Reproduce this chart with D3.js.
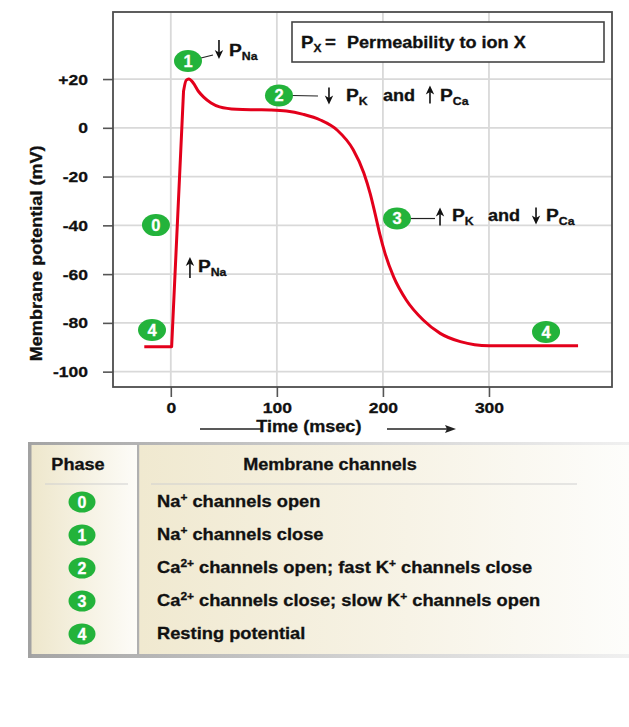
<!DOCTYPE html>
<html><head><meta charset="utf-8">
<script src="https://cdn.jsdelivr.net/npm/d3@7"></script>
<style>html,body{margin:0;padding:0;background:#fff;} svg{display:block;}</style>
</head><body>
<svg id="chart" width="629" height="727"></svg>
<script>
// ---------------- data ----------------
const timeMs =     [-25, 0.8, 12, 14.5, 17, 21, 26, 31, 38, 46, 62, 80, 94, 109, 125, 141, 157, 172, 182, 188, 192.5, 197, 202, 210, 222, 238, 254, 273, 300, 384];
const membraneMv = [-89.8, -89.8, 15, 19.5, 20, 18.5, 15, 12.6, 10.2, 8.6, 7.6, 7.4, 7.3, 6.9, 5.5, 3.2, -1, -9, -18.5, -27, -35, -43.5, -51.5, -61, -70.6, -78.8, -84.3, -87.7, -89.4, -89.4];
const xTicks = [0, 100, 200, 300];
const yTicks = [20, 0, -20, -40, -60, -80, -100];
const yTickLabels = ["+20", "0", "-20", "-40", "-60", "-80", "-100"];
const xTitle = "Time (msec)";
const yTitle = "Membrane potential (mV)";
const legendLabel = "Permeability to ion X";
const badgeLabels = ["1", "2", "3", "0", "4", "4"];
const badgeTime = [16.2, 102, 213.3, -14, -17.7, 353.8];
const badgeMv = [27.4, 13.25, -37.2, -39.9, -82.9, -83.7];
const phaseLabels = ["0", "1", "2", "3", "4"];
const phaseChannels = [
  "Na^{+} channels open",
  "Na^{+} channels close",
  "Ca^{2+} channels open; fast K^{+} channels close",
  "Ca^{2+} channels close; slow K^{+} channels open",
  "Resting potential"
];
const tableHeaders = ["Phase", "Membrane channels"];

// ---------------- setup ----------------
const FONT = "'Liberation Sans', Arial, Helvetica, sans-serif";
const SX = 1.13;
const GREEN = "#23b33b";
const RED = "#e3001b";
const svg = d3.select("#chart");
svg.style("font-family", FONT).style("font-weight", "bold");

function stretch(sel, pre) {
  sel.each(function () {
    const t = d3.select(this);
    const x = +t.attr("x") || 0, y = +t.attr("y") || 0;
    t.attr("transform", `${pre || ""} translate(${x},${y}) scale(${SX},1) translate(${-x},${-y})`);
  });
}

// rich text: ^{sup} and _{sub}
function rich(g, x, y, str, size, anchor) {
  const t = g.append("text").attr("x", x).attr("y", y)
    .attr("font-size", size).attr("text-anchor", anchor || "start").attr("fill", "#111")
    .attr("stroke", "#111").attr("stroke-width", 0.3);
  const parts = str.split(/(\^\{[^}]*\}|_\{[^}]*\})/).filter(s => s.length);
  let shift = 0;
  parts.forEach(p => {
    let m;
    if ((m = p.match(/^\^\{(.*)\}$/))) {
      const d = -Math.round(size * 0.38);
      t.append("tspan").attr("dy", d - shift).attr("font-size", size * 0.65).text(m[1]);
      shift = d;
    } else if ((m = p.match(/^_\{(.*)\}$/))) {
      const d = Math.round(size * 0.24);
      t.append("tspan").attr("dy", d - shift).attr("font-size", size * 0.64).text(m[1]);
      shift = d;
    } else {
      t.append("tspan").attr("dy", -shift).text(p);
      shift = 0;
    }
  });
  stretch(t);
  return t;
}

const x = d3.scaleLinear().domain([-54.5, 416]).range([113, 612]);
const y = d3.scaleLinear().domain([-106.3, 47.5]).range([387, 12]);
const X0 = x.range()[0], X1 = x.range()[1], Y0 = y.range()[1], Y1 = y.range()[0];

// grid
const grid = svg.append("g");
grid.selectAll(".gv").data(xTicks).join("line")
  .attr("x1", d => x(d)).attr("x2", d => x(d)).attr("y1", Y0).attr("y2", Y1)
  .attr("stroke", "#d9d9d9").attr("stroke-width", 1.8);
grid.selectAll(".gh").data(yTicks).join("line")
  .attr("x1", X0).attr("x2", X1).attr("y1", d => y(d)).attr("y2", d => y(d))
  .attr("stroke", "#d9d9d9").attr("stroke-width", 1.8);

// axes
const ax = svg.append("g").attr("transform", `translate(0,${Y1})`)
  .call(d3.axisBottom(x).tickValues(xTicks).tickSize(10).tickPadding(5).tickFormat(d3.format("d")));
const ay = svg.append("g").attr("transform", `translate(${X0},0)`)
  .call(d3.axisLeft(y).tickValues(yTicks).tickSize(10).tickPadding(15).tickFormat((d, i) => yTickLabels[i]));
[ax, ay].forEach(a => {
  a.select(".domain").remove();
  a.selectAll(".tick line").attr("stroke", "#555").attr("stroke-width", 1.6);
  a.selectAll(".tick text").attr("font-family", FONT).attr("font-weight", "bold")
    .attr("font-size", 15.5).attr("fill", "#111").attr("stroke", "#111").attr("stroke-width", 0.3);
  stretch(a.selectAll(".tick text"));
});

// frame
svg.append("rect").attr("x", X0).attr("y", Y0).attr("width", X1 - X0).attr("height", Y1 - Y0)
  .attr("fill", "none").attr("stroke", "#4d4d4d").attr("stroke-width", 1.8);

// curve
const pts = timeMs.map((t, i) => [t, membraneMv[i]]);
const lin = d3.line().x(d => x(d[0])).y(d => y(d[1])).curve(d3.curveLinear);
const smooth = d3.line().x(d => x(d[0])).y(d => y(d[1])).curve(d3.curveMonotoneX);
const dPath = lin(pts.slice(0, 3)) + smooth(pts.slice(2)).replace(/^M/, "L");
svg.append("path").attr("d", dPath).attr("fill", "none").attr("stroke", RED)
  .attr("stroke-width", 3).attr("stroke-linejoin", "round");

// axis titles
const tx = (x(0) + x(300)) / 2 - 21;
rich(svg, tx, 432, xTitle, 16, "middle");
svg.append("line").attr("x1", 200).attr("x2", 262).attr("y1", 429).attr("y2", 429)
  .attr("stroke", "#222").attr("stroke-width", 1.3);
svg.append("line").attr("x1", 387).attr("x2", 447).attr("y1", 429).attr("y2", 429)
  .attr("stroke", "#222").attr("stroke-width", 1.3);
svg.append("path").attr("d", "M456,429 L445,425 L447,429 L445,433 Z").attr("fill", "#222");

svg.append("text").attr("x", 0).attr("y", 0).attr("font-size", 16)
  .attr("text-anchor", "middle").attr("fill", "#111").attr("stroke", "#111").attr("stroke-width", 0.3)
  .text(yTitle)
  .attr("transform", `translate(42,${(y(20) + y(-100)) / 2 + 28}) rotate(-90) scale(${SX},1)`);

// legend box
svg.append("rect").attr("x", 292).attr("y", 22).attr("width", 312).attr("height", 40)
  .attr("fill", "#fff").attr("stroke", "#444").attr("stroke-width", 1.6);
rich(svg, 301, 48, "P_{X}", 16.5);
rich(svg, 325, 48, "=", 16.5);
rich(svg, 347, 48, legendLabel, 16);

// arrows
function arrow(x0, yTail, yHead) {
  const dir = yHead > yTail ? 1 : -1;
  svg.append("line").attr("x1", x0).attr("x2", x0).attr("y1", yTail).attr("y2", yHead - dir * 6)
    .attr("stroke", "#111").attr("stroke-width", 1.6);
  svg.append("path")
    .attr("d", `M${x0},${yHead} L${x0 - 4.2},${yHead - dir * 9} L${x0},${yHead - dir * 6.5} L${x0 + 4.2},${yHead - dir * 9} Z`)
    .attr("fill", "#111");
}
function leader(x1, y1, x2, y2) {
  svg.append("line").attr("x1", x1).attr("y1", y1).attr("x2", x2).attr("y2", y2)
    .attr("stroke", "#222").attr("stroke-width", 1.2);
}

// badges
function badge(g, cx, cy, label, rx, ry, fs) {
  g.append("ellipse").attr("cx", cx).attr("cy", cy).attr("rx", rx).attr("ry", ry).attr("fill", GREEN);
  g.append("text").attr("x", cx).attr("y", cy + fs * 0.36).attr("text-anchor", "middle")
    .attr("font-size", fs).attr("fill", "#fff").attr("stroke", "#fff").attr("stroke-width", 0.3).text(label);
}
const bx = badgeTime.map(t => x(t)), by = badgeMv.map(v => y(v));

// annotation 1
leader(bx[0] + 13, by[0] - 3, bx[0] + 25, by[0] - 6);
arrow(bx[0] + 31, by[0] - 21, by[0] - 2);
rich(svg, bx[0] + 41, by[0] - 5, "P_{Na}", 17);
// annotation 2
leader(bx[1] + 13, by[1], bx[1] + 39, by[1] + 0.5);
arrow(bx[1] + 50, by[1] - 8, by[1] + 9);
rich(svg, bx[1] + 67, by[1] + 5.5, "P_{K}", 17);
rich(svg, bx[1] + 104, by[1] + 5.5, "and", 16);
arrow(bx[1] + 151, by[1] + 8, by[1] - 10);
rich(svg, bx[1] + 161, by[1] + 5.5, "P_{Ca}", 17);
// annotation 3
leader(bx[2] + 13, by[2], bx[2] + 38, by[2]);
arrow(bx[2] + 43, by[2] + 7, by[2] - 11);
rich(svg, bx[2] + 55, by[2] + 2, "P_{K}", 17);
rich(svg, bx[2] + 91, by[2] + 2, "and", 16);
arrow(bx[2] + 139, by[2] - 11, by[2] + 6);
rich(svg, bx[2] + 149, by[2] + 2, "P_{Ca}", 17);
// annotation 0 (upstroke)
arrow(bx[3] + 34, by[3] + 53, by[3] + 32);
rich(svg, bx[3] + 42, by[3] + 47, "P_{Na}", 17);

badgeLabels.forEach((l, i) => badge(svg, bx[i], by[i], l, 14, 11, 16.5));

// ---------------- table ----------------
const defs = svg.append("defs");
const g1 = defs.append("linearGradient").attr("id", "gLeft");
g1.append("stop").attr("offset", "0%").attr("stop-color", "#eee7cc");
g1.append("stop").attr("offset", "100%").attr("stop-color", "#fdfcf8");
const g2 = defs.append("linearGradient").attr("id", "gRight");
g2.append("stop").attr("offset", "0%").attr("stop-color", "#f0e9d0");
g2.append("stop").attr("offset", "55%").attr("stop-color", "#f7f3e6");
g2.append("stop").attr("offset", "100%").attr("stop-color", "#fdfdfb");
const g3 = defs.append("linearGradient").attr("id", "gBorder");
g3.append("stop").attr("offset", "0%").attr("stop-color", "#a4a4a4");
g3.append("stop").attr("offset", "60%").attr("stop-color", "#d6d6d6");
g3.append("stop").attr("offset", "100%").attr("stop-color", "#f0f0f0");

const T = { x0: 28, x1: 629, y0: 442, y1: 658, sep: 138 };
const tg = svg.append("g");
tg.append("rect").attr("x", T.x0 + 3).attr("y", T.y0 + 2).attr("width", T.sep - T.x0 - 4)
  .attr("height", T.y1 - T.y0 - 5).attr("fill", "url(#gLeft)");
tg.append("rect").attr("x", T.sep + 1).attr("y", T.y0 + 2).attr("width", T.x1 - T.sep - 1)
  .attr("height", T.y1 - T.y0 - 5).attr("fill", "url(#gRight)");
tg.append("rect").attr("x", T.x0).attr("y", T.y0).attr("width", T.x1 - T.x0).attr("height", 3).attr("fill", "url(#gBorder)");
tg.append("rect").attr("x", T.x0).attr("y", T.y1 - 4).attr("width", T.x1 - T.x0).attr("height", 4).attr("fill", "url(#gBorder)");
tg.append("rect").attr("x", T.x0).attr("y", T.y0).attr("width", 3.5).attr("height", T.y1 - T.y0).attr("fill", "#a2a2a2");
tg.append("rect").attr("x", T.sep - 1).attr("y", T.y0 + 2).attr("width", 2.2).attr("height", T.y1 - T.y0 - 5).attr("fill", "#b0b0b0");
// header underlines
tg.append("line").attr("x1", 45).attr("x2", 128).attr("y1", 484).attr("y2", 484).attr("stroke", "#cfcfcf").attr("stroke-width", 1.2);
tg.append("line").attr("x1", 151).attr("x2", 577).attr("y1", 484).attr("y2", 484).attr("stroke", "#cfcfcf").attr("stroke-width", 1.2);
rich(tg, 78, 470, tableHeaders[0], 16, "middle");
rich(tg, 330, 470, tableHeaders[1], 16, "middle");

const rowY = d3.scalePoint().domain(phaseLabels).range([502, 634]);
phaseLabels.forEach((p, i) => {
  const cy = rowY(p);
  badge(tg, 82, cy, p, 13.5, 10.5, 16);
  rich(tg, 157, cy + 5.5, phaseChannels[i], 16.2);
});
</script>
</body></html>
